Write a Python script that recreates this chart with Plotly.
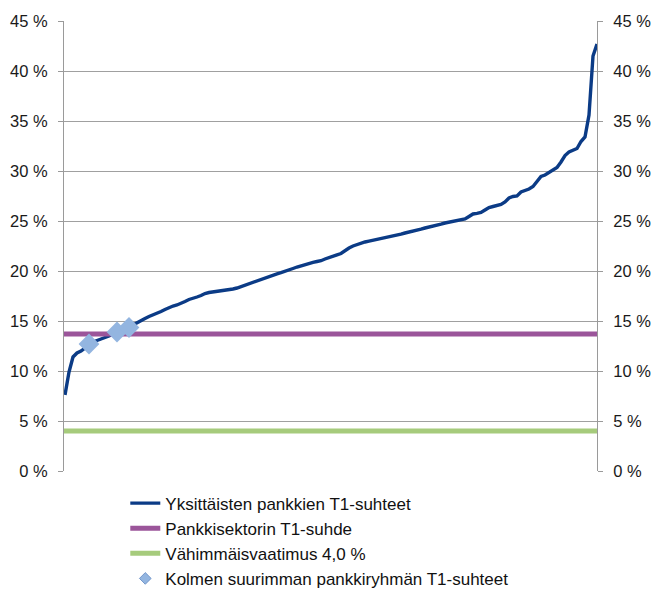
import plotly.graph_objects as go

# Individual banks' T1 ratios (%), sorted ascending
bank_ratios = [
    7.6, 9.9, 11.4, 11.8, 12.0, 12.3, 12.6, 12.9, 13.05, 13.2,
    13.3, 13.5, 13.7, 13.9, 14.05, 14.2, 14.35, 14.6, 14.85, 15.05,
    15.25, 15.45, 15.6, 15.75, 15.95, 16.15, 16.35, 16.5, 16.6, 16.75,
    16.95, 17.15, 17.25, 17.4, 17.55, 17.75, 17.85, 17.9, 17.92, 17.97,
    18.03, 18.08, 18.2, 18.3, 18.45, 18.6, 18.75, 18.9, 19.0, 19.15,
    19.3, 19.45, 19.6, 19.72, 19.83, 19.95, 20.07, 20.25, 20.4, 20.53,
    20.65, 20.77, 20.87, 20.95, 21.03, 21.2, 21.37, 21.5, 21.62, 21.75,
    22.05, 22.3, 22.5, 22.66, 22.8, 22.9, 22.98, 23.06, 23.14, 23.22,
    23.3, 23.38, 23.46, 23.56, 23.68, 23.8, 23.88, 23.96, 24.06, 24.18,
    24.3, 24.38, 24.46, 24.56, 24.68, 24.8, 24.88, 24.96, 25.04, 25.12,
    25.2, 25.45, 25.7, 25.76, 25.85, 26.1, 26.35, 26.45, 26.55, 26.65,
    26.9, 27.3, 27.45, 27.5, 27.9, 28.05, 28.2, 28.45, 28.9, 29.45,
    29.6, 29.85, 30.1, 30.35, 30.9, 31.55, 31.9, 32.05, 32.25, 32.95,
    33.4, 35.6, 41.5, 42.7,
]
bank_index = list(range(len(bank_ratios)))

# Sector-level T1 ratio and minimum requirement (%)
sector_ratio = 13.7
minimum_requirement = 4.0

# Three largest banking groups (position in sorted list, ratio %)
big3_index = [6, 13, 16]
big3_ratios = [12.7, 13.9, 14.35]

y_ticks = [0, 5, 10, 15, 20, 25, 30, 35, 40, 45]
y_tick_labels = ["0 %", "5 %", "10 %", "15 %", "20 %", "25 %", "30 %", "35 %", "40 %", "45 %"]

names = [
    "Yksittäisten pankkien T1-suhteet",
    "Pankkisektorin T1-suhde",
    "Vähimmäisvaatimus 4,0 %",
    "Kolmen suurimman pankkiryhmän T1-suhteet",
]

x_first, x_last = bank_index[0], bank_index[-1]

fig = go.Figure()
fig.add_trace(go.Scatter(
    x=bank_index, y=bank_ratios, mode="lines", name=names[0],
    line=dict(color="#0B3B86", width=3.4),
))
fig.add_trace(go.Scatter(
    x=[x_first - 0.25, x_last], y=[sector_ratio, sector_ratio], mode="lines", name=names[1],
    line=dict(color="#9B559A", width=5),
))
fig.add_trace(go.Scatter(
    x=[x_first - 0.25, x_last], y=[minimum_requirement, minimum_requirement], mode="lines", name=names[2],
    line=dict(color="#A6CB7C", width=5),
))
fig.add_trace(go.Scatter(
    x=big3_index, y=big3_ratios, mode="markers", name=names[3], showlegend=False,
    legendgroup="big3",
    marker=dict(symbol="diamond", size=16, color="#93B5E0"),
))
# legend entry for the diamonds (smaller symbol, as in the original legend)
fig.add_trace(go.Scatter(
    x=[None], y=[None], mode="markers", name=names[3], legendgroup="big3",
    marker=dict(symbol="diamond", size=9, color="#93B5E0", line=dict(color="#5F86C0", width=0.8)),
))
# invisible trace to draw the right-hand axis
fig.add_trace(go.Scatter(
    x=[x_first], y=[0], yaxis="y2", mode="markers", showlegend=False,
    marker=dict(opacity=0), hoverinfo="skip",
))

axis_font = dict(family="Liberation Sans, Arial, sans-serif", size=16.5, color="#1A1A1A")
yaxis_common = dict(
    range=[0, 45], tickvals=y_ticks, ticktext=y_tick_labels,
    ticks="outside", ticklen=5, tickcolor="#9A9A9A", tickwidth=1,
    showline=True, linecolor="#9A9A9A", linewidth=1,
    tickfont=axis_font, zeroline=False, fixedrange=True, automargin=False,
)

fig.update_layout(
    width=654, height=590,
    margin=dict(l=64, r=57, t=21, b=119),
    paper_bgcolor="white", plot_bgcolor="white",
    font=axis_font,
    xaxis=dict(
        range=[x_first - 0.25, x_last], showticklabels=False, ticks="",
        showgrid=False, zeroline=False, showline=False, automargin=False,
    ),
    yaxis=dict(**yaxis_common, side="left", showgrid=True, gridcolor="#A0A0A0", gridwidth=1,
               ticklabelstandoff=7),
    yaxis2=dict(**yaxis_common, side="right", overlaying="y", showgrid=False,
                ticklabelstandoff=7),
    showlegend=True,
    legend=dict(
        x=0.115, y=0.177, xanchor="left", yanchor="top", yref="container",
        font=dict(family="Liberation Sans, Arial, sans-serif", size=17, color="#111111"),
        bgcolor="rgba(0,0,0,0)", itemsizing="trace", tracegroupgap=0,
    ),
)

fig.write_html("out.html", config={"displayModeBar": False},
               post_script="document.body.style.margin='0';")
